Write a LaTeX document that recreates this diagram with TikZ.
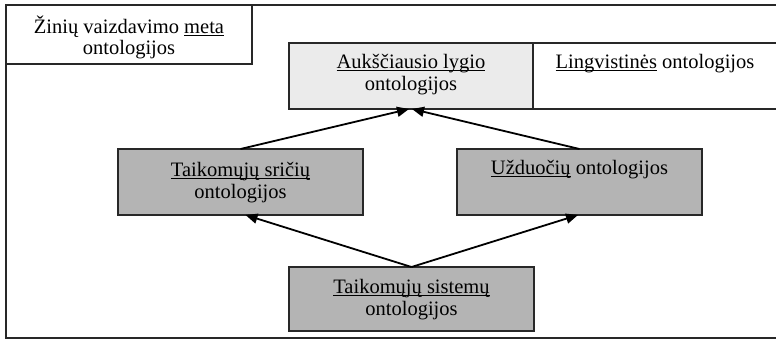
\documentclass[tikz,border=0pt]{standalone}
\usepackage{fontspec}
\setmainfont{Liberation Serif}
\usetikzlibrary{arrows.meta}
\newcommand\myul[1]{\setbox0\hbox{#1}\rlap{\rule[-2.8pt]{\wd0}{1pt}}\box0\relax}
\definecolor{lightbox}{RGB}{235,235,235}
\definecolor{darkbox}{RGB}{180,180,180}
\definecolor{edge}{RGB}{40,40,40}
\begin{document}
\begin{tikzpicture}[x=1pt,y=-1pt,
  frame/.style={draw=edge,line width=1.2pt,inner sep=0pt,outer sep=0pt,anchor=north west},
  txt/.style={inner sep=0pt,anchor=base,font=\fontsize{20.5}{22}\selectfont,text=black},
  conn/.style={line width=1.8pt,-{Triangle[length=12pt,width=10pt]}}]
\useasboundingbox (0,0) rectangle (776,340);
% outer frame (right side runs off the picture)
\node[frame,fill=white,minimum width=780pt,minimum height=333pt] (outer) at (6,5) {};
% top-left box
\node[frame,fill=white,minimum width=246pt,minimum height=59pt] (meta) at (6,5) {};
\node[txt] (meta1) at (129,33) {Žinių vaizdavimo \myul{meta}};
\node[txt] (meta2) at (129,54) {ontologijos};
% top box
\node[frame,fill=lightbox,minimum width=244pt,minimum height=66pt] (top) at (289,43) {};
\node[frame,fill=white,minimum width=250pt,minimum height=66pt] (ling) at (533,43) {};
\node[txt] (top1) at (411,68) {\myul{Aukščiausio lygio}};
\node[txt] (top2) at (411,90) {ontologijos};
\node[txt] (ling1) at (655,68) {\myul{Lingvistinės} ontologijos};
% middle boxes
\node[frame,fill=darkbox,minimum width=245pt,minimum height=66pt] (dom) at (118,149) {};
\node[txt] (dom1) at (240.5,176) {\myul{Taikomųjų sričių}};
\node[txt] (dom2) at (240.5,198) {ontologijos};
\node[frame,fill=darkbox,minimum width=245pt,minimum height=66pt] (task) at (457,149) {};
\node[txt] (task1) at (579.5,174) {\myul{Užduočių} ontologijos};
% bottom box
\node[frame,fill=darkbox,minimum width=245pt,minimum height=64pt] (app) at (289,267) {};
\node[txt] (app1) at (411.5,293) {\myul{Taikomųjų sistemų}};
\node[txt] (app2) at (411.5,315) {ontologijos};
% connectors
\draw[conn] (dom.north) -- ([xshift=-2pt]top.south);
\draw[conn] (task.north) -- ([xshift=1pt]top.south);
\draw[conn] (app.north) -- ([xshift=5pt]dom.south);
\draw[conn] (app.north) -- ([xshift=-1.5pt]task.south);
\end{tikzpicture}
\end{document}
